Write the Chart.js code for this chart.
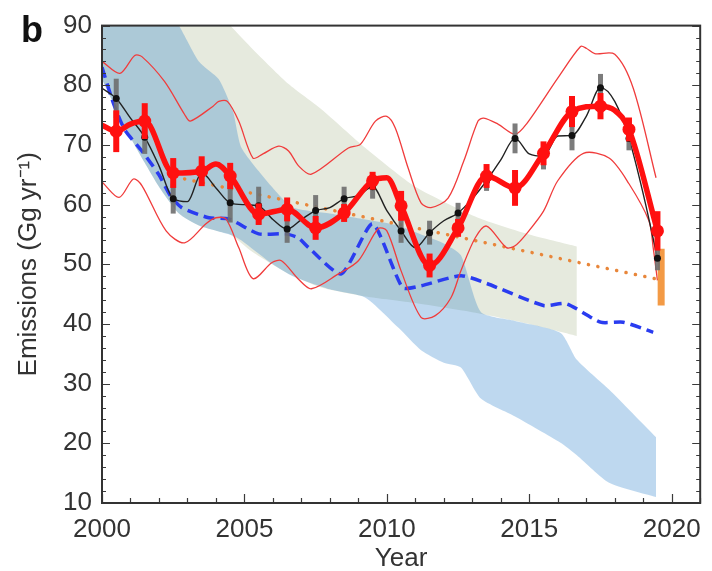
<!DOCTYPE html>
<html>
<head>
<meta charset="utf-8">
<script src="https://cdn.jsdelivr.net/npm/chart.js@4.4.1/dist/chart.umd.min.js"></script>
<style>
  html, body { margin: 0; padding: 0; background: #fff; }
  #wrap { width: 712px; height: 571px; }
</style>
</head>
<body>
<div id="wrap"><canvas id="myChartEmissions" width="712" height="571"></canvas></div>
<script>
// ---- values ----
var yearTicks = [2000, 2005, 2010, 2015, 2020];
var emissionTicks = [10, 20, 30, 40, 50, 60, 70, 80, 90];

// red: annual estimates with error bars
var redYears = [2000.5, 2001.5, 2002.5, 2003.5, 2004.5, 2005.5, 2006.5, 2007.5, 2008.5, 2009.5,
                2010.5, 2011.5, 2012.5, 2013.5, 2014.5, 2015.5, 2016.5, 2017.5, 2018.5, 2019.5];
var redValues = [72.3, 74, 65.3, 65.6, 64.8, 58.4, 59.2, 56.1, 58.6, 64,
                 59.8, 49.8, 56.1, 64.8, 62.8, 68.6, 75.6, 76.5, 72.6, 55.6];
var redErrors = [3.5, 3, 2.5, 2.5, 2.2, 1.8, 2, 2, 1.5, 1.5,
                 2.5, 2, 1.5, 2, 3, 2, 2.6, 2.2, 2, 3.3];

// red thick curve
var redLineYears = [2000, 2000.5, 2001, 2001.5, 2002.5, 2003.5, 2004, 2004.5, 2005.5, 2006.5, 2007.5, 2008.5,
                    2009.5, 2010, 2010.5, 2011.5, 2012.5, 2013.5, 2014.5, 2015.5, 2016.5, 2017.5, 2018, 2018.5, 2019.5];
var redLineValues = [73.3, 72.3, 73.5, 74, 65.3, 65.6, 66.8, 64.8, 58.4, 59.2, 56.1, 58.6,
                     64, 64.5, 59.8, 49.8, 56.1, 64.8, 62.8, 68.6, 75.6, 76.5, 75.8, 72.6, 55.6];

// black: annual estimates with grey error bars
var blackYears = [2000.5, 2001.5, 2002.5, 2004.5, 2005.5, 2006.5, 2007.5, 2008.5, 2009.5,
                  2010.5, 2011.5, 2012.5, 2013.5, 2014.5, 2015.5, 2016.5, 2017.5, 2018.5, 2019.5];
var blackValues = [77.8, 71.3, 61, 60.3, 59.8, 55.9, 59, 61, 63,
                   55.6, 55.3, 58.6, 64, 71.1, 68.1, 71.6, 79.6, 71.1, 51];
var blackErrors = [3.3, 2.8, 2.5, 3.3, 3.2, 2.3, 2.6, 2, 2,
                   2, 2, 1.7, 1.7, 2.5, 2.2, 2.5, 2.3, 2, 2];

// black thin curve
var blackLineYears = [2000, 2000.5, 2001, 2001.5, 2002, 2002.5, 2003, 2003.5, 2004, 2004.5, 2005, 2005.5,
                      2006, 2006.5, 2007, 2007.5, 2008, 2008.5, 2009, 2009.5, 2010, 2010.5, 2011, 2011.5,
                      2012, 2012.5, 2013, 2013.5, 2014, 2014.5, 2015, 2015.5, 2016, 2016.5, 2017, 2017.5,
                      2018, 2018.5, 2019, 2019.5];
var blackLineValues = [79.5, 77.8, 74.5, 71.3, 66.5, 61, 60.5, 65.3, 62.8, 60.3, 60, 59.8,
                       57.5, 55.9, 57.5, 59, 59.5, 61, 61.5, 63, 59, 55.6, 52.8, 55.3,
                       57.3, 58.6, 61, 64, 67.5, 71.1, 68.5, 68.1, 71.5, 71.6, 74.8, 79.6,
                       77.3, 71.1, 61.8, 51];

// thin red envelope
var upperEnvYears = [2000, 2000.63, 2001.15, 2001.4, 2002.2, 2002.9, 2003.1, 2003.9, 2004.1, 2004.4, 2004.8,
                     2005.3, 2005.65, 2006.2, 2006.55, 2006.9, 2007.35, 2008.65, 2009.07, 2009.6, 2010,
                     2010.3, 2010.75, 2011.2, 2011.55, 2012.15, 2012.7, 2013.2, 2013.4, 2013.9, 2014.5,
                     2014.9, 2016, 2016.8, 2017, 2017.3, 2018, 2018.65, 2019.45];
var upperEnvValues = [84, 82, 85, 84.8, 80.6, 75.1, 74, 76.5, 77.3, 77.3, 74,
                      67.8, 68.5, 69.8, 69, 66.5, 65.1, 69.5, 70.1, 74, 74.8,
                      72.8, 66.1, 60.3, 59.5, 61.1, 67.3, 74, 74.5, 73.5, 71.8,
                      73.5, 81.2, 86.5, 86.2, 85.3, 85.2, 79.5, 64.5];
var lowerEnvYears = [2000, 2000.6, 2001.1, 2001.4, 2002.25, 2002.9, 2003.65, 2004, 2004.35, 2004.8, 2005.3,
                     2005.97, 2006.3, 2006.9, 2007.35, 2008.3, 2009, 2009.7, 2010, 2010.5, 2011.2, 2011.7,
                     2012.25, 2012.6, 2013.1, 2013.5, 2014.2, 2014.5, 2014.9, 2015.5, 2016, 2016.9,
                     2017.8, 2018.5, 2019.2, 2019.35, 2019.5];
var lowerEnvValues = [63.8, 61.2, 64.3, 63.2, 55.6, 53.6, 56.8, 57.8, 57.6, 52.8, 47.6,
                      50.3, 50.6, 47.5, 45.9, 48.4, 50.6, 56, 55.6, 48.9, 41.1, 41.4,
                      44.4, 48.9, 54.4, 56.4, 52.8, 53.1, 55.1, 58.9, 64, 68.6,
                      67.8, 63.5, 57.3, 52.8, 47.3];

// blue dashed curve
var dashedYears = [2000, 2000.4, 2000.8, 2001.4, 2002, 2002.4, 2002.8, 2003.75, 2004.45, 2005.5, 2006.45,
                   2006.9, 2007.25, 2008.4, 2009.5, 2010.55, 2011.2, 2012.6, 2013.5, 2015.5, 2016.3,
                   2017.5, 2018.3, 2019.35];
var dashedValues = [83, 77, 72.5, 69, 65, 61.5, 59.5, 57.8, 57.6, 55.1, 55.1,
                    54.4, 52.8, 48.4, 56.8, 46.1, 46.4, 48.1, 46.8, 43.1, 43.4,
                    40.3, 40.3, 38.6];

// orange dotted trend and orange bar
var trendYears = [2002.9, 2019.4];
var trendValues = [64.3, 47.6];
var barYears = [2019.63, 2019.63];
var barValues = [52.6, 43.1];

// shaded ranges
var sageYears = [2000, 2000.8, 2001.5, 2002, 2002.7, 2003.4, 2004.1, 2004.5, 2005.3, 2006.55, 2007.7,
                 2009.25, 2011, 2013.2, 2015, 2016.67];
var sageUpper = [100, 100, 100, 100, 98, 95, 92, 90, 86, 80.2, 76,
                 69.5, 63, 57.8, 55, 53];
var sageLower = [81, 73, 67, 63, 58.5, 56.5, 55.5, 55, 52, 48.4, 46.1,
                 44.6, 43.5, 41.8, 40, 38];

var blueYears = [2000, 2000.8, 2001.5, 2002, 2002.7, 2003.4, 2004.1, 2004.6, 2004.9, 2006, 2006.7, 2008, 2009.25,
                 2010.4, 2011.2, 2012, 2012.6, 2013.3, 2014.5, 2016.1, 2016.67, 2017.8, 2019.45];
var blueUpper = [100, 100, 97, 95, 90, 84, 81, 75.6, 69.5, 62.8, 59.5, 58.5, 57.5,
                 56.5, 55, 53.5, 51.5, 42, 40.5, 38.5, 34, 29, 21];
var blueLower = [81, 73, 67, 63, 58.5, 56.5, 55.5, 54.8, 54, 50, 48, 45.8, 44.4,
                 39.4, 35.6, 33.5, 32.7, 27.5, 24.5, 20.1, 18, 13.4, 11];

function pts(xs, ys) {
    return xs.map(function (x, i) { return { x: x, y: ys[i] }; });
}

var FONT = '"Liberation Sans", Arial, Helvetica, sans-serif';
var TEXT = '#333333';

var errorBars = {
    id: 'errorBars',
    beforeDatasetDraw: function (chart, args) {
        var ds = chart.data.datasets[args.index];
        if (!ds.errors) return;
        var ctx = chart.ctx, xs = chart.scales.x, ys = chart.scales.y;
        ctx.save();
        ctx.strokeStyle = ds.errorColor;
        ctx.lineWidth = ds.errorWidth;
        ctx.lineCap = 'butt';
        for (var i = 0; i < ds.data.length; i++) {
            var p = ds.data[i];
            var px = xs.getPixelForValue(p.x);
            ctx.beginPath();
            ctx.moveTo(px, ys.getPixelForValue(p.y - ds.errors[i]));
            ctx.lineTo(px, ys.getPixelForValue(p.y + ds.errors[i]));
            ctx.stroke();
        }
        ctx.restore();
    }
};

var frame = {
    id: 'frame',
    afterDatasetsDraw: function (chart) {
        var ctx = chart.ctx, a = chart.chartArea;
        var xs = chart.scales.x, ys = chart.scales.y;
        ctx.save();
        ctx.strokeStyle = '#3a3a3a';
        ctx.lineWidth = 1.2;
        ctx.beginPath();
        // inward ticks, left and right
        for (var v = 10; v <= 90; v += 2) {
            var py = Math.round(ys.getPixelForValue(v)) + 0.5;
            var len = (v % 10 === 0) ? 8 : 4;
            ctx.moveTo(a.left, py); ctx.lineTo(a.left + len, py);
            ctx.moveTo(a.right, py); ctx.lineTo(a.right - len, py);
        }
        // inward ticks, bottom
        for (var yr = 2000; yr <= 2021; yr++) {
            var px = Math.round(xs.getPixelForValue(yr)) + 0.5;
            var l2 = (yr % 5 === 0) ? 9 : 5;
            ctx.moveTo(px, a.bottom); ctx.lineTo(px, a.bottom - l2);
        }
        ctx.stroke();
        ctx.lineWidth = 2;
        ctx.strokeStyle = '#333333';
        ctx.strokeRect(a.left, a.top, a.right - a.left, a.bottom - a.top);
        ctx.restore();
    },
    afterDraw: function (chart) {
        var ctx = chart.ctx;
        ctx.save();
        ctx.fillStyle = '#111';
        ctx.font = 'bold 36px ' + FONT;
        ctx.textBaseline = 'alphabetic';
        ctx.fillText('b', 21, 42);
        ctx.restore();
    }
};

window.onload = function () {
    var ctx = document.getElementById('myChartEmissions').getContext('2d');
    var myChart = new Chart(ctx, {
        type: 'line',
        data: {
            datasets: [
                {   // 0 red markers
                    data: pts(redYears, redValues),
                    showLine: false,
                    pointRadius: 6.5,
                    pointBackgroundColor: '#ff1010',
                    pointBorderWidth: 0,
                    errors: redErrors, errorColor: '#ff1010', errorWidth: 6,
                    order: 1
                },
                {   // 1 red line
                    data: pts(redLineYears, redLineValues),
                    borderColor: '#ff1010',
                    borderWidth: 5.5,
                    pointRadius: 0,
                    cubicInterpolationMode: 'monotone',
                    order: 2
                },
                {   // 2 black dots
                    data: pts(blackYears, blackValues),
                    showLine: false,
                    pointRadius: 3.5,
                    pointBackgroundColor: '#111',
                    pointBorderWidth: 0,
                    errors: blackErrors, errorColor: 'rgba(110,110,110,0.9)', errorWidth: 5,
                    order: 3
                },
                {   // 3 black line
                    data: pts(blackLineYears, blackLineValues),
                    borderColor: '#222',
                    borderWidth: 1.4,
                    pointRadius: 0,
                    cubicInterpolationMode: 'monotone',
                    order: 4
                },
                {   // 4 orange bar
                    data: pts(barYears, barValues),
                    borderColor: '#f39a45',
                    borderWidth: 7,
                    borderCapStyle: 'butt',
                    pointRadius: 0,
                    order: 5
                },
                {   // 5 upper envelope
                    data: pts(upperEnvYears, upperEnvValues),
                    borderColor: '#f03c3c',
                    borderWidth: 1.3,
                    pointRadius: 0,
                    tension: 0.3,
                    order: 6
                },
                {   // 6 lower envelope
                    data: pts(lowerEnvYears, lowerEnvValues),
                    borderColor: '#f03c3c',
                    borderWidth: 1.3,
                    pointRadius: 0,
                    tension: 0.3,
                    order: 6
                },
                {   // 7 orange dotted trend
                    data: pts(trendYears, trendValues),
                    borderColor: '#e8863a',
                    borderWidth: 3.5,
                    borderDash: [0.1, 9.5],
                    borderCapStyle: 'round',
                    pointRadius: 0,
                    order: 7
                },
                {   // 8 blue dashed
                    data: pts(dashedYears, dashedValues),
                    borderColor: '#2a3cf0',
                    borderWidth: 3.5,
                    borderDash: [11, 6],
                    pointRadius: 0,
                    tension: 0.2,
                    order: 8
                },
                {   // 9 blue band upper
                    data: pts(blueYears, blueUpper),
                    borderColor: 'rgba(0,0,0,0)',
                    backgroundColor: 'rgba(30,120,200,0.29)',
                    fill: '+1',
                    pointRadius: 0,
                    tension: 0.2,
                    order: 9
                },
                {   // 10 blue band lower
                    data: pts(blueYears, blueLower),
                    borderColor: 'rgba(0,0,0,0)',
                    pointRadius: 0,
                    tension: 0.2,
                    order: 9
                },
                {   // 11 sage band upper
                    data: pts(sageYears, sageUpper),
                    borderColor: 'rgba(0,0,0,0)',
                    backgroundColor: 'rgb(230,234,222)',
                    fill: '+1',
                    pointRadius: 0,
                    tension: 0.2,
                    order: 10
                },
                {   // 12 sage band lower
                    data: pts(sageYears, sageLower),
                    borderColor: 'rgba(0,0,0,0)',
                    pointRadius: 0,
                    tension: 0.2,
                    order: 10
                }
            ]
        },
        options: {
            responsive: false,
            animation: false,
            events: [],
            layout: { padding: { top: 24, right: 8, left: 0, bottom: 0 } },
            plugins: {
                legend: { display: false },
                tooltip: { enabled: false }
            },
            scales: {
                x: {
                    type: 'linear',
                    min: 2000,
                    max: 2021,
                    afterBuildTicks: function (s) { s.ticks = yearTicks.map(function (v) { return { value: v }; }); },
                    afterFit: function (s) { s.height = 68; },
                    grid: { display: false, drawTicks: false },
                    border: { display: false },
                    ticks: {
                        font: { size: 26, family: FONT }, color: TEXT, padding: 11, maxRotation: 0,
                        callback: function (v) { return String(v); }
                    },
                    title: { display: true, text: 'Year', font: { size: 26, family: FONT }, color: TEXT, padding: { top: 0, bottom: -3 } }
                },
                y: {
                    min: 10,
                    max: 90,
                    afterBuildTicks: function (s) { s.ticks = emissionTicks.map(function (v) { return { value: v }; }); },
                    afterFit: function (s) { s.width = 102; },
                    grid: { display: false, drawTicks: false },
                    border: { display: false },
                    ticks: { font: { size: 26, family: FONT }, color: TEXT, padding: 10 },
                    title: { display: true, text: 'Emissions (Gg yr⁻¹)', font: { size: 26, family: FONT }, color: TEXT, padding: { top: 13 } }
                }
            }
        },
        plugins: [errorBars, frame]
    });
};
</script>
</body>
</html>
